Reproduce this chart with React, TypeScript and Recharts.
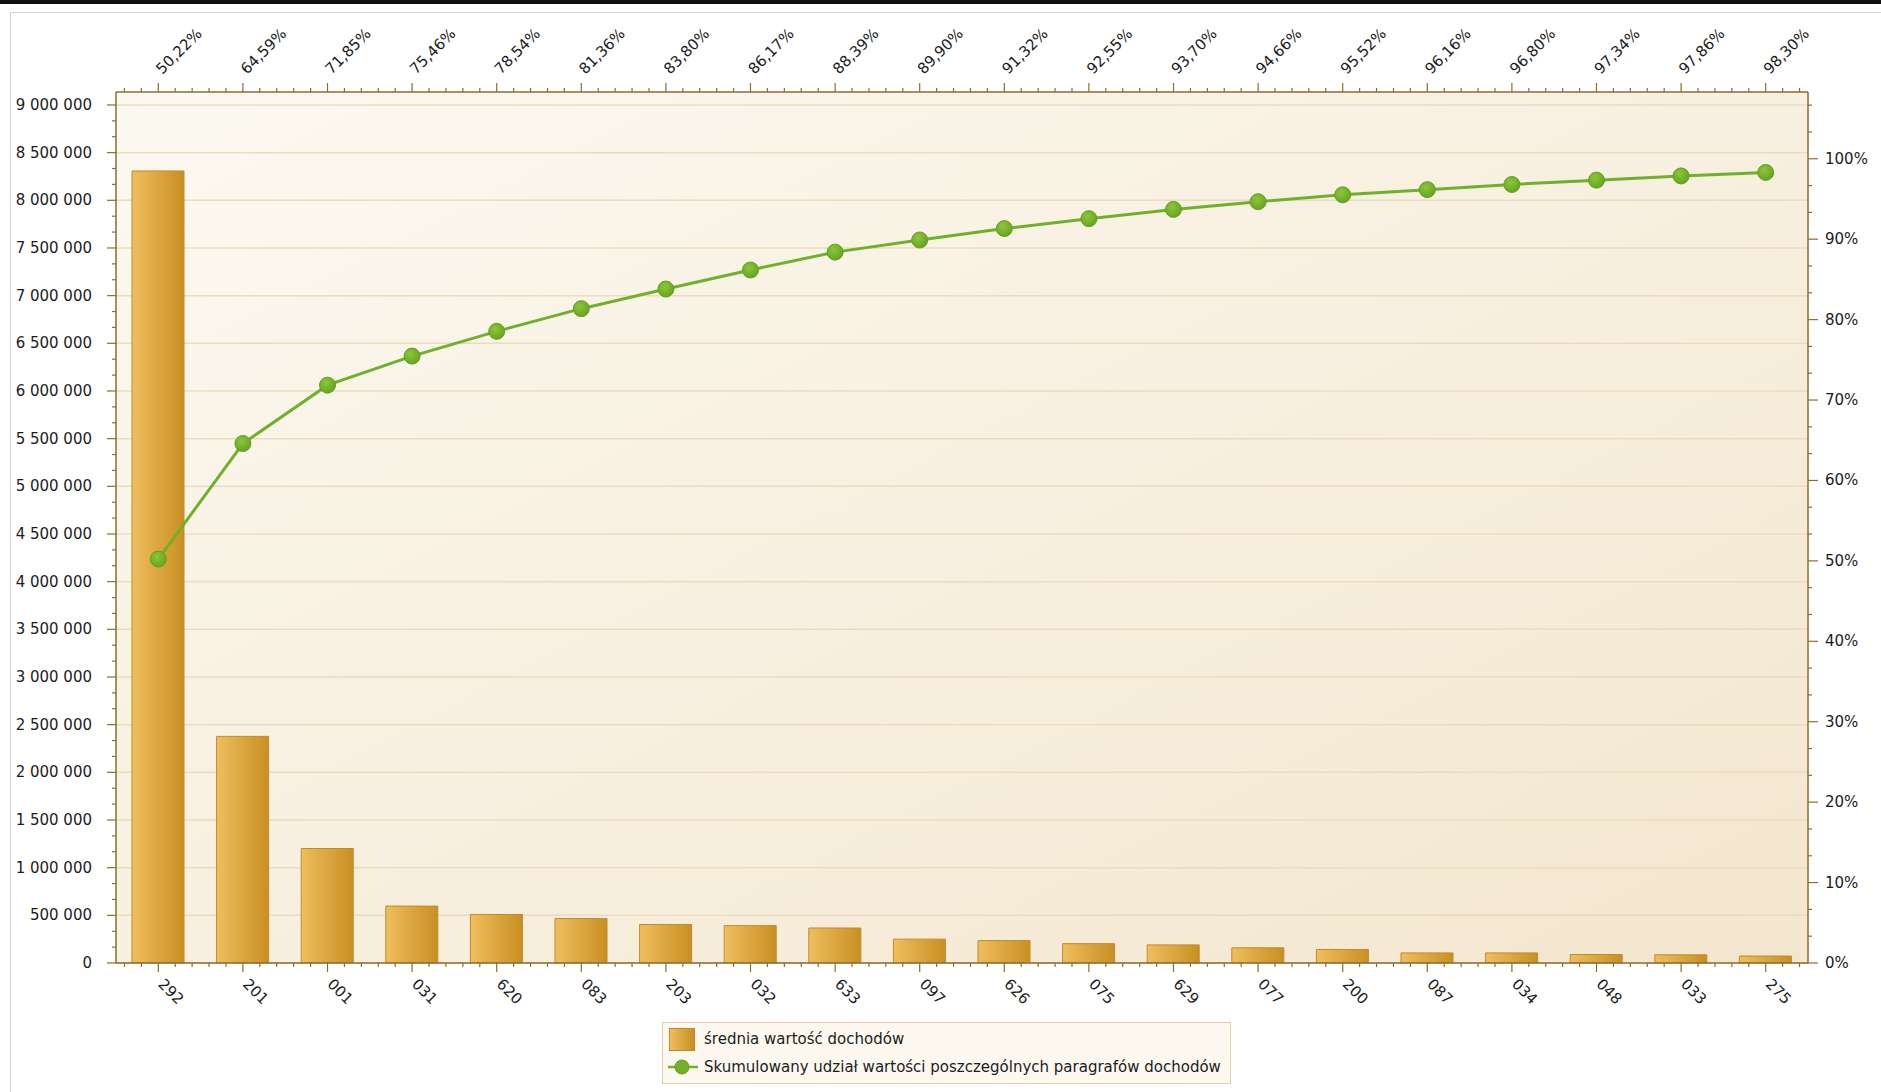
import { Bar, CartesianGrid, ComposedChart, Legend, Line, XAxis, YAxis } from 'recharts';

const categories = ['292', '201', '001', '031', '620', '083', '203', '032', '633', '097', '626', '075', '629', '077', '200', '087', '034', '048', '033', '275'];
const avgIncome = [8308000, 2377000, 1201000, 597000, 509000, 466000, 404000, 392000, 367000, 250000, 235000, 203000, 190000, 159000, 142000, 106000, 106000, 89000, 86000, 73000];
const cumulativeShare = [50.22, 64.59, 71.85, 75.46, 78.54, 81.36, 83.8, 86.17, 88.39, 89.9, 91.32, 92.55, 93.7, 94.66, 95.52, 96.16, 96.8, 97.34, 97.86, 98.3];

const leftMajorTicks = [0, 500000, 1000000, 1500000, 2000000, 2500000, 3000000, 3500000, 4000000, 4500000, 5000000, 5500000, 6000000, 6500000, 7000000, 7500000, 8000000, 8500000, 9000000];
const rightMajorTicks = [0, 10, 20, 30, 40, 50, 60, 70, 80, 90, 100];

const BAR_NAME = 'średnia wartość dochodów';
const LINE_NAME = 'Skumulowany udział wartości poszczególnych paragrafów dochodów';

const FONT = '"DejaVu Sans", Tahoma, sans-serif';
const FS = 15;
const AXIS = '#8d6d2e';
const TEXT = '#1c1c1c';

const W = 1881;
const H = 1092;
const PLOT_LEFT = 116;
const PLOT_RIGHT = 1808;
const MINOR_STEP = (PLOT_RIGHT - PLOT_LEFT) / categories.length / 5;

const pctLabel = (v: number) => v.toFixed(2).replace('.', ',') + '%';
const spaced = (v: number) => String(Math.round(v)).replace(/\B(?=(\d{3})+(?!\d))/g, ' ');

// major ticks plus two minors between each pair
const withMinors = (majors: number[], extra: number[] = []) => {
  const out: number[] = [];
  majors.forEach((m, i) => {
    out.push(m);
    if (i < majors.length - 1) {
      const d = (majors[i + 1] - m) / 3;
      out.push(m + d, m + 2 * d);
    }
  });
  return out.concat(extra);
};

const leftTicks = withMinors(leftMajorTicks);
const rightTicks = withMinors(rightMajorTicks, [100 + 10 / 3, 100 + 20 / 3]);

const data = categories.map((code, i) => ({
  code,
  cumLabel: pctLabel(cumulativeShare[i]),
  value: avgIncome[i],
  cum: cumulativeShare[i],
}));

const isMajor = (v: number, step: number) => Math.abs(v / step - Math.round(v / step)) < 1e-6;

function LeftTick(props: any) {
  const { x, y, payload } = props;
  const major = isMajor(payload.value, 500000);
  return (
    <g>
      <line x1={x - (major ? 9 : 4)} x2={x} y1={y} y2={y} stroke={AXIS} strokeWidth={1.2} />
      {major && (
        <text x={x - 24} y={y} dy={5} textAnchor="end" fontFamily={FONT} fontSize={FS} fill={TEXT}>
          {spaced(payload.value)}
        </text>
      )}
    </g>
  );
}

function RightTick(props: any) {
  const { x, y, payload } = props;
  const major = isMajor(payload.value, 10);
  return (
    <g>
      <line x1={x} x2={x + (major ? 10 : 4)} y1={y} y2={y} stroke={AXIS} strokeWidth={1.2} />
      {major && (
        <text x={x + 17} y={y} dy={5} textAnchor="start" fontFamily={FONT} fontSize={FS} fill={TEXT}>
          {Math.round(payload.value)}%
        </text>
      )}
    </g>
  );
}

function minorMarks(x: number, y: number, dir: number) {
  return [-2, -1, 1, 2].map((k) => (
    <line key={k} x1={x + k * MINOR_STEP} x2={x + k * MINOR_STEP} y1={y} y2={y + dir * 4} stroke={AXIS} strokeWidth={1.2} />
  ));
}

function TopTick(props: any) {
  const { x, y, payload } = props;
  return (
    <g>
      <line x1={x} x2={x} y1={y} y2={y - 9} stroke={AXIS} strokeWidth={1.2} />
      {minorMarks(x, y, -1)}
      <text x={x + 4} y={y - 17} transform={`rotate(-45 ${x + 4} ${y - 17})`} textAnchor="start" fontFamily={FONT} fontSize={FS} fill={TEXT}>
        {payload.value}
      </text>
    </g>
  );
}

function BottomTick(props: any) {
  const { x, y, payload } = props;
  return (
    <g>
      <line x1={x} x2={x} y1={y} y2={y + 9} stroke={AXIS} strokeWidth={1.2} />
      {minorMarks(x, y, 1)}
      <text x={x - 1} y={y + 22} transform={`rotate(45 ${x - 1} ${y + 22})`} textAnchor="start" fontFamily={FONT} fontSize={FS} fill={TEXT}>
        {payload.value}
      </text>
    </g>
  );
}

function LegendBox() {
  return (
    <div
      style={{
        border: '1px solid #e2d1a6',
        background: '#fdf9f1',
        padding: '2px 9px 2px 5px',
        fontFamily: FONT,
        fontSize: FS,
        color: TEXT,
        lineHeight: '26px',
        whiteSpace: 'nowrap',
      }}
    >
      <div style={{ display: 'flex', alignItems: 'center', height: 28 }}>
        <span
          style={{
            width: 26,
            height: 23,
            boxSizing: 'border-box',
            border: '1px solid #c08a2c',
            background: 'linear-gradient(to right, #efbe5e, #c98f22)',
            marginLeft: 1,
            marginRight: 9,
          }}
        />
        {BAR_NAME}
      </div>
      <div style={{ display: 'flex', alignItems: 'center', height: 28 }}>
        <svg width={30} height={18} style={{ marginRight: 6 }}>
          <line x1={0} x2={30} y1={9} y2={9} stroke="#6fb12a" strokeWidth={2.5} />
          <circle cx={14} cy={9} r={7} fill="#72b22a" stroke="#5f9c1d" />
        </svg>
        {LINE_NAME}
      </div>
    </div>
  );
}

export default function App() {
  return (
    <div style={{ position: 'relative', width: W, height: H, background: '#fff' }}>
      <style>{'body{margin:0}'}</style>
      <div style={{ position: 'absolute', left: 0, top: 0, width: W, height: 4, background: '#111' }} />
      <div style={{ position: 'absolute', left: 10, top: 12, width: W - 10, height: 1, background: '#d6d2cc' }} />
      <div style={{ position: 'absolute', left: 10, top: 12, width: 1, height: H - 12, background: '#d6d2cc' }} />
      <ComposedChart width={W} height={H} data={data} margin={{ top: 22, right: 13, bottom: 69, left: 16 }}>
        <defs>
          <linearGradient id="barGrad" x1="0" y1="0" x2="1" y2="0">
            <stop offset="0%" stopColor="#efbe5e" />
            <stop offset="100%" stopColor="#c98f22" />
          </linearGradient>
          <linearGradient id="plotBg" x1="0" y1="0" x2="1" y2="1">
            <stop offset="0%" stopColor="#fcf9f1" />
            <stop offset="100%" stopColor="#f3e6ce" />
          </linearGradient>
          <radialGradient id="dotGrad" cx="40%" cy="35%" r="65%">
            <stop offset="0%" stopColor="#8cc63c" />
            <stop offset="100%" stopColor="#67a421" />
          </radialGradient>
        </defs>
        <CartesianGrid vertical={false} horizontalValues={leftMajorTicks} stroke="#eadcc0" strokeWidth={1.5} fill="url(#plotBg)" fillOpacity={1} />
        <XAxis
          dataKey="code"
          height={60}
          interval={0}
          tickSize={0}
          tickMargin={0}
          tick={BottomTick}
          axisLine={{ stroke: AXIS, strokeWidth: 1.5 }}
          tickLine={false}
        />
        <XAxis
          xAxisId="top"
          dataKey="cumLabel"
          orientation="top"
          height={70}
          interval={0}
          tickSize={0}
          tickMargin={0}
          tick={TopTick}
          axisLine={{ stroke: AXIS, strokeWidth: 1.5 }}
          tickLine={false}
        />
        <YAxis
          width={100}
          domain={[0, 9136000]}
          ticks={leftTicks}
          interval={0}
          tickSize={0}
          tickMargin={0}
          tick={LeftTick}
          axisLine={{ stroke: AXIS, strokeWidth: 1.5 }}
          tickLine={false}
          allowDataOverflow
        />
        <YAxis
          yAxisId="pct"
          orientation="right"
          width={60}
          domain={[0, 108.3]}
          ticks={rightTicks}
          interval={0}
          tickSize={0}
          tickMargin={0}
          tick={RightTick}
          axisLine={{ stroke: AXIS, strokeWidth: 1.5 }}
          tickLine={false}
          allowDataOverflow
        />
        <Bar dataKey="value" name={BAR_NAME} barSize={52} fill="url(#barGrad)" stroke="#c08a2c" strokeWidth={1} isAnimationActive={false} />
        <Line
          yAxisId="pct"
          dataKey="cum"
          name={LINE_NAME}
          stroke="#6fb12a"
          strokeWidth={3}
          dot={{ r: 8, fill: 'url(#dotGrad)', stroke: '#62a01f', strokeWidth: 1 }}
          activeDot={false}
          isAnimationActive={false}
        />
        <Legend
          layout="vertical"
          align="center"
          verticalAlign="middle"
          content={LegendBox}
          wrapperStyle={{ left: 662, top: 1022, width: 'auto' }}
        />
      </ComposedChart>
    </div>
  );
}
